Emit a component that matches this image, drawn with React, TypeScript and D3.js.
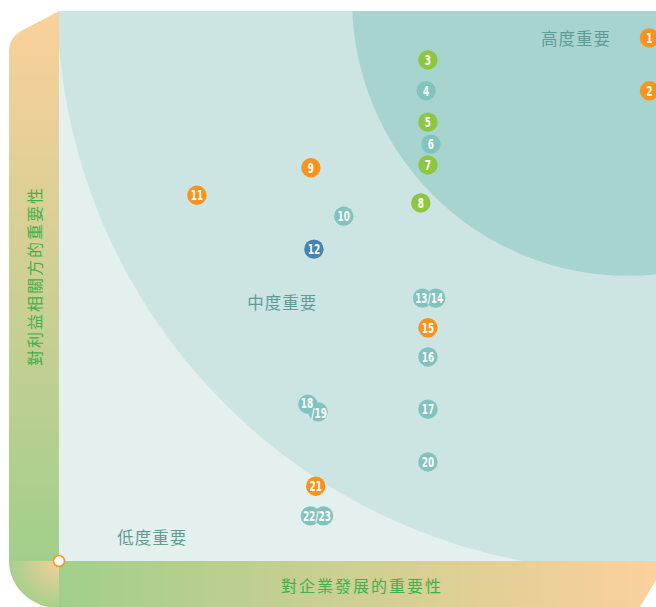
import React from "react";
import * as d3 from "d3";

const W = 656;
const H = 607;
const frame = { left: 59, top: 11, right: 656, bottom: 561 };

// issues: x = importance to business, y = importance to stakeholders (0-100)
const issueIds = [1, 2, 3, 4, 5, 6, 7, 8, 9, 10, 11, 12, 13, 14, 15, 16, 17, 18, 19, 20, 21, 22, 23];
const xValues = [98.9, 98.9, 61.8, 61.5, 61.8, 62.3, 61.8, 60.6, 42.2, 47.7, 23.1, 42.7, 60.9, 63.1, 61.8, 61.8, 61.8, 41.7, 43.4, 61.8, 43.0, 42.1, 44.3];
const yValues = [95.1, 85.5, 91.1, 85.5, 79.8, 75.8, 72.0, 65.1, 71.5, 62.7, 66.5, 56.7, 47.8, 47.8, 42.4, 37.1, 27.6, 28.5, 27.1, 18.0, 13.6, 8.2, 8.2];
const issueGroups = ["o", "o", "g", "t", "g", "t", "g", "g", "o", "t", "o", "b", "t", "t", "o", "t", "t", "t", "t", "t", "o", "t", "t"];

// labels drawn over the circles, anchored at the mean of the listed issues
const labelTexts = ["1", "2", "3", "4", "5", "6", "7", "8", "9", "10", "11", "12", "13/14", "15", "16", "17", "18", "/19", "20", "21", "22/23"];
const labelAnchors = [[1], [2], [3], [4], [5], [6], [7], [8], [9], [10], [11], [12], [13, 14], [15], [16], [17], [18], [19], [20], [21], [22, 23]];

// importance zones, concentric around the top right
const zoneCenter = [95.3, 102];
const zoneRadii = [95.6, 46.2];
const zoneNames = ["高度重要", "中度重要", "低度重要"];
const zoneLabelX = [86.6, 37.4, 15.6];
const zoneLabelY = [95.1, 47.1, 4.4];

const xTitle = "對企業發展的重要性";
const yTitle = "對利益相關方的重要性";

const groupColor: Record<string, string> = {
  o: "#f7931e",
  g: "#8dc63f",
  t: "#80c3bf",
  b: "#4584b0",
};

const numFont = "'DejaVu Sans', sans-serif";
const cjkFont = "'Noto Sans CJK TC', 'Noto Sans CJK SC', sans-serif";

export default function App() {
  const x = d3.scaleLinear().domain([0, 100]).range([frame.left, frame.right]);
  const y = d3.scaleLinear().domain([0, 100]).range([frame.bottom, frame.top]);
  const rPx = (r: number) => x(r) - x(0);

  const pos = (id: number) => {
    const i = issueIds.indexOf(id);
    return [x(xValues[i]), y(yValues[i])];
  };

  // the stacked 18 and /19 labels are pushed apart a touch, like the original
  const nudge = (t: string) => (t === "18" ? [-1, -1.5] : t === "/19" ? [1, 0.5] : [0, 0]);

  const leftBar = `M${frame.left},${frame.top} L22,30.5 Q9,37.3 9,52 L9,${frame.bottom} L${frame.left},${frame.bottom} Z`;
  const bottomBar = `M${frame.left},${frame.bottom} L${W},${frame.bottom} L${W},580 L640,${H} L${frame.left},${H} Z`;
  const corner = `M9,${frame.bottom} A50,47 0 0 0 ${frame.left},${frame.bottom + 47} L${frame.left},${frame.bottom} Z`;

  return (
    <div style={{ position: "absolute", left: 0, top: 0 }}>
      <svg width={W} height={H} style={{ display: "block" }}>
        <defs>
          <clipPath id="plotClip">
            <rect x={frame.left} y={frame.top} width={frame.right - frame.left} height={frame.bottom - frame.top} />
          </clipPath>
          <linearGradient id="gradLeft" gradientUnits="userSpaceOnUse" x1={0} y1={frame.top} x2={0} y2={frame.bottom}>
            <stop offset="0" stopColor="#fbd09c" />
            <stop offset="1" stopColor="#a1cf8b" />
          </linearGradient>
          <linearGradient id="gradBottom" gradientUnits="userSpaceOnUse" x1={frame.left} y1={0} x2={W} y2={0}>
            <stop offset="0" stopColor="#a1cf8b" />
            <stop offset="1" stopColor="#fbd09c" />
          </linearGradient>
          <radialGradient id="gradCorner" gradientUnits="userSpaceOnUse" cx={frame.left} cy={frame.bottom} r={50}>
            <stop offset="0" stopColor="#f5cf9b" />
            <stop offset="1" stopColor="#a3d08b" />
          </radialGradient>
        </defs>

        <g clipPath="url(#plotClip)">
          <rect x={frame.left} y={frame.top} width={frame.right - frame.left} height={frame.bottom - frame.top} fill="#e3f0ee" />
          <circle cx={x(zoneCenter[0])} cy={y(zoneCenter[1])} r={rPx(zoneRadii[0])} fill="#cce5e3" />
          <circle cx={x(zoneCenter[0])} cy={y(zoneCenter[1])} r={rPx(zoneRadii[1])} fill="#a8d4cf" />
        </g>

        {zoneNames.map((name, i) => (
          <text
            key={name}
            x={x(zoneLabelX[i])}
            y={y(zoneLabelY[i])}
            textAnchor="middle"
            dominantBaseline="central"
            fontFamily={cjkFont}
            fontSize={16.5}
            letterSpacing={1}
            fill="#5f9b96"
          >
            {name}
          </text>
        ))}

        <g clipPath="url(#plotClip)">
          {issueIds.map((id, i) => (
            <circle key={id} cx={x(xValues[i])} cy={y(yValues[i])} r={9.7} fill={groupColor[issueGroups[i]]} />
          ))}
          {labelTexts.map((t, i) => {
            const pts = labelAnchors[i].map(pos);
            const [dx, dy] = nudge(t);
            const cx = (d3.mean(pts, (p) => p[0]) ?? 0) + dx;
            const cy = (d3.mean(pts, (p) => p[1]) ?? 0) + dy;
            return (
              <text
                key={t}
                transform={`translate(${cx},${cy + 0.5}) scale(0.66,1)`}
                textAnchor="middle"
                dominantBaseline="central"
                fontFamily={numFont}
                fontWeight="bold"
                fontSize={13.5}
                fill="#ffffff"
              >
                {t}
              </text>
            );
          })}
        </g>

        <path d={leftBar} fill="url(#gradLeft)" />
        <path d={bottomBar} fill="url(#gradBottom)" />
        <path d={corner} fill="url(#gradCorner)" />

        <text
          x={362}
          y={585}
          textAnchor="middle"
          dominantBaseline="central"
          fontFamily={cjkFont}
          fontSize={16}
          letterSpacing={2}
          fill="#42b04a"
        >
          {xTitle}
        </text>
        <text
          transform={`translate(34, 276) rotate(-90)`}
          textAnchor="middle"
          dominantBaseline="central"
          fontFamily={cjkFont}
          fontSize={16}
          letterSpacing={2}
          fill="#42b04a"
        >
          {yTitle}
        </text>

        <circle cx={frame.left} cy={frame.bottom} r={5.5} fill="#ffffff" stroke="#f7931e" strokeWidth={1.6} />
      </svg>
    </div>
  );
}
